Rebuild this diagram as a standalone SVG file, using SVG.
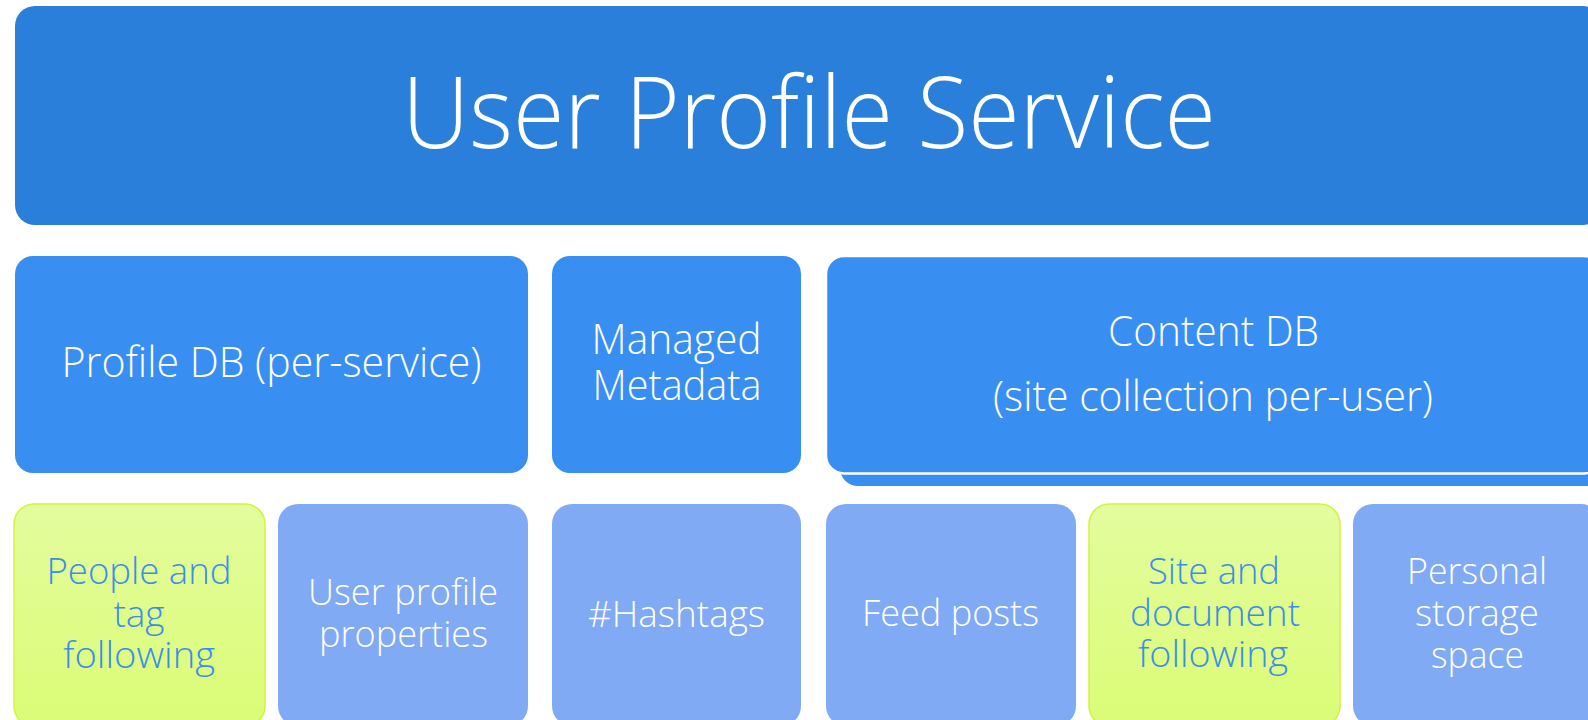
<svg xmlns="http://www.w3.org/2000/svg" width="1588" height="720" viewBox="0 0 1588 720">
  <defs>
    <linearGradient id="gGreen" x1="0" y1="0" x2="0" y2="1">
      <stop offset="0" stop-color="#E4FC9E"/>
      <stop offset="1" stop-color="#DBFC76"/>
    </linearGradient>
    <style>
      text { font-family: "Open Sans", "Segoe UI", "Liberation Sans", sans-serif; font-weight: 300; text-anchor: middle; }
      .top { fill: #2A7FDB; }
      .mid { fill: #398EF2; }
      .low { fill: #81AAF4; }
      .grn { fill: url(#gGreen); stroke: #D3F43E; stroke-width: 1.5; }
      .tTitle { fill: #FFFFFF; font-size: 99px; }
      .tMid { fill: #FFFFFF; font-size: 42px; }
      .tLow { fill: #FFFFFF; font-size: 37px; }
      .tGrn { fill: #3A8EEA; font-size: 37px; }
    </style>
  </defs>
  <rect width="1588" height="720" fill="#FFFFFF"/>

  <g id="user-profile-service">
    <rect class="top" x="15" y="6" width="1588" height="219" rx="20" ry="20"/>
    <text class="tTitle" x="809" y="148" textLength="814" lengthAdjust="spacingAndGlyphs">User Profile Service</text>
  </g>

  <g id="profile-db">
    <rect class="mid" x="15" y="256" width="513" height="217" rx="18" ry="18"/>
    <text class="tMid" x="271.5" y="377" textLength="420" lengthAdjust="spacingAndGlyphs">Profile DB (per-service)</text>
  </g>

  <g id="managed-metadata">
    <rect class="mid" x="552" y="256" width="249" height="217" rx="18" ry="18"/>
    <text class="tMid" x="676.5" y="354" textLength="170" lengthAdjust="spacingAndGlyphs">Managed</text>
    <text class="tMid" x="677" y="400" textLength="169" lengthAdjust="spacingAndGlyphs">Metadata</text>
  </g>

  <g id="content-db">
    <rect class="mid" x="840" y="269" width="776" height="217" rx="18" ry="18"/>
    <rect class="mid" x="826" y="256" width="776" height="217.5" rx="18" ry="18" stroke="#FFFFFF" stroke-width="2.5"/>
    <text class="tMid" x="1213.5" y="346" textLength="211" lengthAdjust="spacingAndGlyphs">Content DB</text>
    <text class="tMid" x="1213" y="411" textLength="440" lengthAdjust="spacingAndGlyphs">(site collection per-user)</text>
  </g>

  <g id="people-tag-following">
    <rect class="grn" x="14" y="504" width="251" height="222" rx="20" ry="20"/>
    <text class="tGrn" x="139" y="584" textLength="185" lengthAdjust="spacingAndGlyphs">People and</text>
    <text class="tGrn" x="139" y="626.5">tag</text>
    <text class="tGrn" x="139" y="668" textLength="152" lengthAdjust="spacingAndGlyphs">following</text>
  </g>

  <g id="user-profile-properties">
    <rect class="low" x="278" y="504" width="250" height="222" rx="20" ry="20"/>
    <text class="tLow" x="403" y="605" textLength="190" lengthAdjust="spacingAndGlyphs">User profile</text>
    <text class="tLow" x="403.5" y="646.5" textLength="169" lengthAdjust="spacingAndGlyphs">properties</text>
  </g>

  <g id="hashtags">
    <rect class="low" x="552" y="504" width="249" height="222" rx="20" ry="20"/>
    <text class="tLow" x="676.5" y="626.5" textLength="177" lengthAdjust="spacingAndGlyphs">#Hashtags</text>
  </g>

  <g id="feed-posts">
    <rect class="low" x="826" y="504" width="250" height="222" rx="20" ry="20"/>
    <text class="tLow" x="950.5" y="625.5" textLength="177" lengthAdjust="spacingAndGlyphs">Feed posts</text>
  </g>

  <g id="site-document-following">
    <rect class="grn" x="1089" y="504" width="251" height="222" rx="20" ry="20"/>
    <text class="tGrn" x="1214" y="584" textLength="132" lengthAdjust="spacingAndGlyphs">Site and</text>
    <text class="tGrn" x="1215" y="625.5" textLength="170" lengthAdjust="spacingAndGlyphs">document</text>
    <text class="tGrn" x="1213" y="667" textLength="150" lengthAdjust="spacingAndGlyphs">following</text>
  </g>

  <g id="personal-storage-space">
    <rect class="low" x="1353" y="504" width="248" height="222" rx="20" ry="20"/>
    <text class="tLow" x="1477" y="584" textLength="140" lengthAdjust="spacingAndGlyphs">Personal</text>
    <text class="tLow" x="1477" y="625.5" textLength="124" lengthAdjust="spacingAndGlyphs">storage</text>
    <text class="tLow" x="1477.5" y="668" textLength="93" lengthAdjust="spacingAndGlyphs">space</text>
  </g>

  <g id="connectors"/>
</svg>
